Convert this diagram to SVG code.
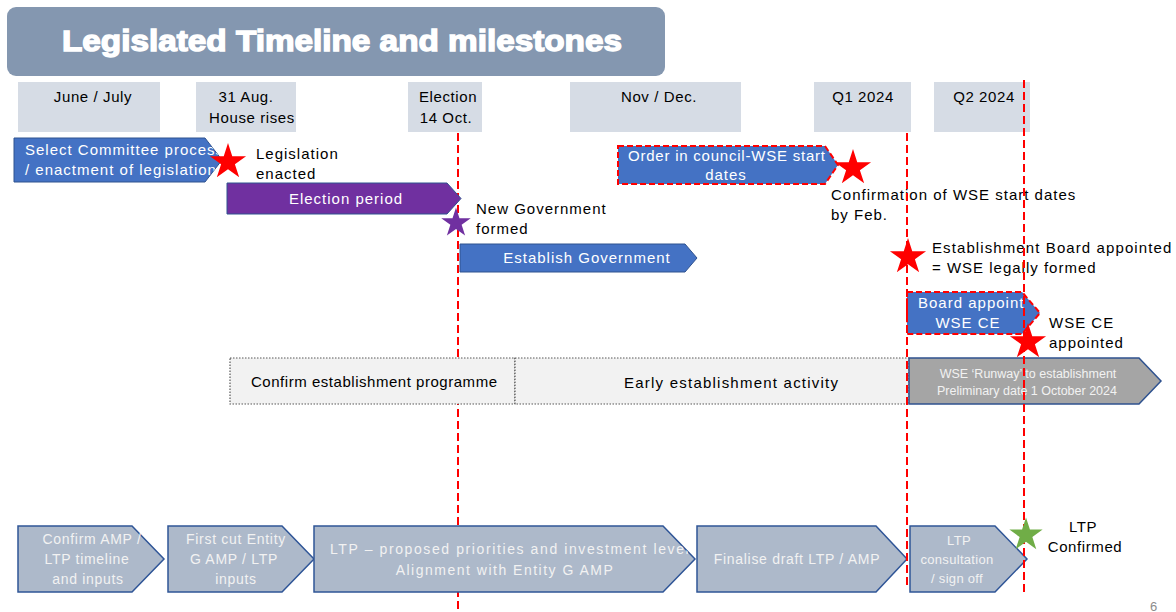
<svg xmlns="http://www.w3.org/2000/svg" width="1176" height="612" viewBox="0 0 1176 612">
<defs>
  <polygon id="star" points="0,-1 0.2245,-0.309 0.951,-0.309 0.363,0.118 0.588,0.809 0,0.382 -0.588,0.809 -0.363,0.118 -0.951,-0.309 -0.2245,-0.309"/>
  <clipPath id="clipSelect"><path d="M14,138 H205 L222,160 L205,182 H14 Z"/></clipPath>
  <clipPath id="clipLtp"><path d="M314,526 H663 L695,559 L663,592 H314 Z"/></clipPath>
  <clipPath id="clipBoard"><path d="M907,292 H1022 L1040,313 L1022,334 H907 Z"/></clipPath>
</defs>
<style>
  text { font-family: "Liberation Sans", Arial, sans-serif; }
  .hdr { fill: #D6DCE5; }
  .lbl { font-size: 15px; fill: #000; letter-spacing: 1px; }
  .hl { font-size: 15px; fill: #000; letter-spacing: 0.6px; text-anchor: middle; }
  .wt { font-size: 15px; fill: #FFF; letter-spacing: 1px; text-anchor: middle; }
  .wl { font-size: 15px; fill: #FFF; letter-spacing: 1px; }
  .bt { font-size: 14px; fill: #F2F2F2; letter-spacing: 0.7px; text-anchor: middle; }
  .bts { font-size: 14px; fill: #F2F2F2; letter-spacing: 1.6px; }
  .bsm { font-size: 13px; fill: #F2F2F2; letter-spacing: 0.3px; text-anchor: middle; }
  .blue { fill: #4472C4; stroke: #2F528F; stroke-width: 1; }
  .bluered { fill: #4472C4; stroke: #FF0000; stroke-width: 2; stroke-dasharray: 6 3; }
  .purple { fill: #7030A0; stroke: #2F528F; stroke-width: 1; }
  .grey { fill: #ADB9CA; stroke: #2F5597; stroke-width: 1.5; }
  .runway { fill: #A5A5A5; stroke: #2F528F; stroke-width: 1.5; }
  .dotted { fill: #F2F2F2; stroke: #595959; stroke-width: 1.2; stroke-dasharray: 1.5 1.5; }
  .dash { stroke: #FF0000; stroke-width: 2; stroke-dasharray: 8 4; fill: none; }
  .rstar { fill: #FF0000; }
</style>

<g id="title">
  <rect x="7" y="7" width="658" height="69" rx="9" fill="#8497B0"/>
  <text x="342" y="51" text-anchor="middle" font-size="30" font-weight="bold" fill="#FFF" stroke="#FFF" stroke-width="1.4" textLength="560" lengthAdjust="spacingAndGlyphs">Legislated Timeline and milestones</text>
</g>

<g id="header-junejuly"><rect class="hdr" x="18" y="82" width="142" height="50"/><text class="hl" x="93" y="102">June / July</text></g>
<g id="header-aug"><rect class="hdr" x="196" y="82" width="100" height="50"/><text class="hl" x="246" y="102">31 Aug.</text><text class="hl" x="252" y="123">House rises</text></g>
<g id="header-election"><rect class="hdr" x="408" y="82" width="74" height="50"/><text class="hl" x="448" y="102">Election</text><text class="hl" x="446" y="123">14 Oct.</text></g>
<g id="header-novdec"><rect class="hdr" x="570" y="82" width="171" height="50"/><text class="hl" x="659" y="102">Nov / Dec.</text></g>
<g id="header-q1"><rect class="hdr" x="814" y="82" width="97" height="50"/><text class="hl" x="863" y="102">Q1 2024</text></g>
<g id="header-q2"><rect class="hdr" x="934" y="82" width="96" height="50"/><text class="hl" x="984" y="102">Q2 2024</text></g>

<g id="connectors-back">
  <line class="dash" x1="458" y1="133" x2="458" y2="612"/>
</g>

<g id="select-committee">
  <path class="blue" d="M14,138 H205 L222,160 L205,182 H14 Z"/>
  <g clip-path="url(#clipSelect)">
    <text class="wl" x="25" y="155">Select Committee process</text>
    <text class="wl" x="25" y="175">/ enactment of legislation</text>
  </g>
</g>
<g id="legislation-enacted">
  <use href="#star" class="rstar" transform="translate(228,162) scale(19)"/>
  <text class="lbl" x="256" y="159">Legislation</text>
  <text class="lbl" x="256" y="179">enacted</text>
</g>

<g id="election-period">
  <path class="purple" d="M227,183 H447 L461,198.5 L447,214 H227 Z"/>
  <text class="wt" x="346" y="204">Election period</text>
</g>
<g id="new-government">
  <use href="#star" fill="#7030A0" transform="translate(456,223) scale(15.5)"/>
  <text class="lbl" x="476" y="214">New Government</text>
  <text class="lbl" x="476" y="234">formed</text>
</g>

<g id="establish-government">
  <path class="blue" d="M460,244 H685 L697,258 L685,272 H460 Z"/>
  <text class="wt" x="587" y="263">Establish Government</text>
</g>

<g id="order-in-council">
  <path class="bluered" d="M618,146 H825 L838,165 L825,184 H618 Z"/>
  <text class="wt" x="727" y="161" textLength="198" lengthAdjust="spacing">Order in council-WSE start</text>
  <text class="wt" x="726" y="180">dates</text>
</g>
<g id="confirmation-start-dates">
  <use href="#star" class="rstar" transform="translate(853,168) scale(19)"/>
  <text class="lbl" x="831" y="200">Confirmation of WSE start dates</text>
  <text class="lbl" x="831" y="220">by Feb.</text>
</g>

<g id="establishment-board">
  <use href="#star" class="rstar" transform="translate(908,257) scale(19)"/>
  <text class="lbl" x="932" y="253" style="letter-spacing:1.1px">Establishment Board appointed</text>
  <text class="lbl" x="932" y="273">= WSE legally formed</text>
</g>

<g id="board-appoint">
  <path class="bluered" d="M907,292 H1022 L1040,313 L1022,334 H907 Z"/>
  <g clip-path="url(#clipBoard)">
    <text class="wl" x="918" y="308">Board appoint</text>
  </g>
  <text class="wt" x="968" y="328">WSE CE</text>
</g>

<g id="confirm-establishment">
  <rect class="dotted" x="230" y="358" width="285" height="46"/>
  <text class="lbl" x="251" y="387" textLength="247" lengthAdjust="spacing">Confirm establishment programme</text>
</g>
<g id="early-establishment">
  <rect class="dotted" x="515" y="358" width="394" height="46"/>
  <text class="lbl" x="624" y="388" textLength="215" lengthAdjust="spacing">Early establishment activity</text>
</g>
<g id="runway">
  <path class="runway" d="M909,358 H1139 L1161,381 L1139,404 H909 Z"/>
  <text x="1028" y="378" text-anchor="middle" font-size="12.5" fill="#F2F2F2">WSE ‘Runway’ to establishment</text>
  <text x="1027" y="395" text-anchor="middle" font-size="12.5" fill="#F2F2F2">Preliminary date 1 October 2024</text>
</g>

<g id="amp-timeline">
  <path class="grey" d="M18,526 H132 L164,559 L132,592 H18 Z"/>
  <text class="bt" x="92" y="544">Confirm AMP /</text>
  <text class="bt" x="87" y="564">LTP timeline</text>
  <text class="bt" x="88" y="584">and inputs</text>
</g>
<g id="first-cut">
  <path class="grey" d="M168,526 H282 L314,559 L282,592 H168 Z"/>
  <text class="bt" x="236" y="544">First cut Entity</text>
  <text class="bt" x="234" y="564">G AMP / LTP</text>
  <text class="bt" x="236" y="584">inputs</text>
</g>
<g id="ltp-priorities">
  <path class="grey" d="M314,526 H663 L695,559 L663,592 H314 Z"/>
  <g clip-path="url(#clipLtp)">
    <text class="bts" x="330" y="554">LTP – proposed priorities and investment levels</text>
  </g>
  <text class="bt" x="505" y="575" style="letter-spacing:1.5px">Alignment with Entity G AMP</text>
</g>
<g id="finalise-draft">
  <path class="grey" d="M697,526 H876 L907,559 L876,592 H697 Z"/>
  <text class="bt" x="797" y="564">Finalise draft LTP / AMP</text>
</g>
<g id="ltp-consultation">
  <path class="grey" d="M910,526 H995 L1027,559 L995,592 H910 Z"/>
  <text class="bsm" x="959" y="545">LTP</text>
  <text class="bsm" x="957" y="564">consultation</text>
  <text class="bsm" x="957" y="583">/ sign off</text>
</g>

<g id="connectors-front">
  <line class="dash" x1="907" y1="133" x2="907" y2="586"/>
  <line class="dash" x1="1024" y1="80" x2="1024" y2="596"/>
</g>

<g id="wse-ce-appointed">
  <use href="#star" class="rstar" transform="translate(1028,342) scale(19)"/>
  <text class="lbl" x="1049" y="328">WSE CE</text>
  <text class="lbl" x="1049" y="348">appointed</text>
</g>

<g id="ltp-confirmed">
  <use href="#star" fill="#70AD47" transform="translate(1026,535) scale(17.5)"/>
  <text class="hl" x="1083" y="532">LTP</text>
  <text class="hl" x="1085" y="552">Confirmed</text>
</g>

<text x="1150" y="611" font-size="13" fill="#8C8C8C">6</text>
</svg>
